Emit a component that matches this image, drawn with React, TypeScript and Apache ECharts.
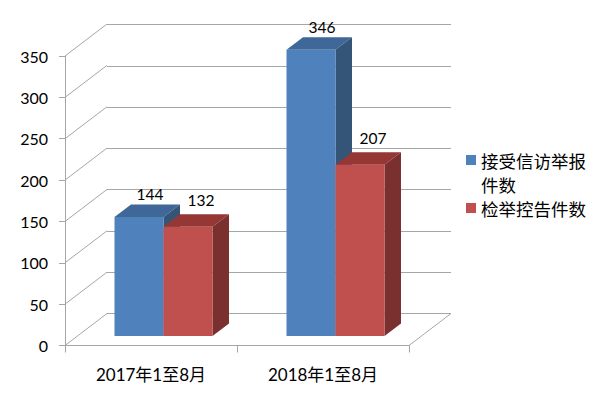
import React, { useEffect, useRef } from "react";
import * as echarts from "echarts";

const categories = ["2017年1至8月", "2018年1至8月"];
const reportName = "接受信访举报件数";
const prosecuteName = "检举控告件数";
const reportValues = [144, 346];
const prosecuteValues = [132, 207];
const tickValues = [0, 50, 100, 150, 200, 250, 300, 350];

const LATIN_CJK = "Lato,'Noto Sans CJK SC',sans-serif";
const CJK = "'Noto Sans CJK SC','Liberation Sans',sans-serif";
const WALL_DX = 42;
const WALL_DY = -32;
const BAR_W = 49;
const BAR_DEPTH_X = 16.5;
const BAR_DEPTH_Y = -12.5;
const BAR_OFFSET_Y = -9.5;
const CENTER_SHIFT = 12.5;
const LINE = "#a6a6a6";

function bar3d(name: string, values: number[], slot: number, front: string, top: string, side: string, lx: number, ly: number) {
  return {
    type: "custom",
    name,
    xAxisIndex: 0,
    yAxisIndex: 0,
    z: 5,
    clip: false,
    itemStyle: { color: front },
    encode: { x: 0, y: 1 },
    data: values.map((v, i) => [i, v]),
    renderItem: (_: any, api: any) => {
      const p = api.coord([api.value(0), api.value(1)]);
      const b = api.coord([api.value(0), 0]);
      const x0 = p[0] + CENTER_SHIFT + slot * BAR_W;
      const x1 = x0 + BAR_W;
      const yT = p[1] + BAR_OFFSET_Y;
      const yB = b[1] + BAR_OFFSET_Y;
      const dx = BAR_DEPTH_X;
      const dy = BAR_DEPTH_Y;
      return {
        type: "group",
        children: [
          { type: "polygon", shape: { points: [[x0, yT], [x1, yT], [x1 + dx, yT + dy], [x0 + dx, yT + dy]] }, style: { fill: top } },
          { type: "polygon", shape: { points: [[x1, yT], [x1 + dx, yT + dy], [x1 + dx, yB + dy], [x1, yB]] }, style: { fill: side } },
          { type: "rect", shape: { x: x0, y: yT, width: BAR_W, height: yB - yT }, style: { fill: front } },
          {
            type: "text",
            style: {
              text: String(api.value(1)),
              x: x0 + BAR_W / 2 + lx,
              y: yT + ly,
              align: "center",
              verticalAlign: "middle",
              fill: "#000",
              fontSize: 15.5,
              fontFamily: LATIN_CJK,
            },
          },
        ],
      };
    },
  };
}

export default function App() {
  const ref = useRef<HTMLDivElement>(null);
  useEffect(() => {
    const chart = echarts.init(ref.current!, undefined, { renderer: "svg" });
    chart.setOption({
      animation: false,
      backgroundColor: "#fff",
      grid: [
        { left: 65, top: 56, width: 344, height: 289.5 },
        { left: 107, top: 24.5, width: 344, height: 289 },
      ],
      xAxis: [
        {
          type: "category",
          gridIndex: 0,
          data: categories,
          axisLine: { lineStyle: { color: LINE } },
          axisTick: { show: true, length: 7, lineStyle: { color: LINE } },
          axisLabel: { margin: 20, fontSize: 17, color: "#000", fontFamily: LATIN_CJK },
        },
        { type: "category", gridIndex: 1, data: categories, show: false },
      ],
      yAxis: [
        {
          type: "value",
          gridIndex: 0,
          min: 0,
          max: 350,
          interval: 50,
          axisLine: { show: true, lineStyle: { color: LINE } },
          axisTick: { show: true, length: 6, lineStyle: { color: LINE } },
          axisLabel: { margin: 17, fontSize: 16, color: "#000", fontFamily: LATIN_CJK },
          splitLine: { show: false },
        },
        {
          type: "value",
          gridIndex: 1,
          min: 0,
          max: 350,
          interval: 50,
          axisLine: { show: false },
          axisTick: { show: false },
          axisLabel: { show: false },
          splitLine: { show: true, lineStyle: { color: LINE, width: 1 } },
        },
      ],
      legend: [
        {
          orient: "vertical",
          left: 466,
          top: 148,
          padding: 0,
          data: [
            {
              name: reportName,
              icon: "path://M0 0H10V10H0Z M0 34L0 34",
            },
          ],
          itemWidth: 10,
          itemHeight: 34,
          formatter: () => "接受信访举报\n件数",
          textStyle: { fontFamily: CJK, fontSize: 17.5, lineHeight: 24, color: "#000" },
        },
        {
          orient: "vertical",
          left: 466,
          top: 196,
          padding: 0,
          data: [{ name: prosecuteName, icon: "rect" }],
          itemWidth: 10,
          itemHeight: 10,
          textStyle: { fontFamily: CJK, fontSize: 17.5, lineHeight: 24, color: "#000" },
        },
      ],
      series: [
        {
          type: "custom",
          silent: true,
          xAxisIndex: 0,
          yAxisIndex: 0,
          z: 1,
          clip: false,
          encode: { y: 1 },
          data: tickValues.map((v, i) => [i, v]),
          renderItem: (params: any, api: any) => {
            const y = api.coord([0, api.value(1)])[1];
            const left = params.coordSys.x;
            const right = left + params.coordSys.width;
            const style = { stroke: LINE, lineWidth: 1, fill: "none" };
            const children: any[] = [
              { type: "line", shape: { x1: left, y1: y, x2: left + WALL_DX, y2: y + WALL_DY }, style },
            ];
            if (api.value(1) === 0) {
              children.push({ type: "line", shape: { x1: right, y1: y, x2: right + WALL_DX, y2: y + WALL_DY }, style });
            }
            return { type: "group", children };
          },
        },
        bar3d(reportName, reportValues, -1, "#4f81bd", "#3f6797", "#345478", 11, -23),
        bar3d(prosecuteName, prosecuteValues, 0, "#c0504d", "#953735", "#7a302e", 13, -26.5),
      ],
    });
    return () => chart.dispose();
  }, []);
  return <div ref={ref} style={{ position: "fixed", left: 0, top: 0, width: 600, height: 400 }} />;
}
